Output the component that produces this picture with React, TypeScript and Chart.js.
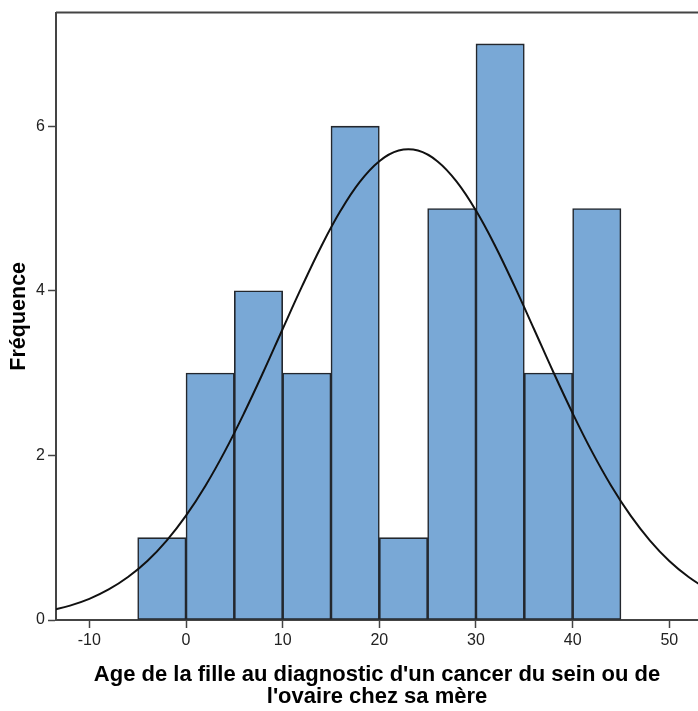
import React, { useEffect, useRef } from "react";
import { Chart, registerables } from "chart.js";

Chart.register(...registerables);

// Histogram bins (lower bounds) and counts
const binStarts = [-5, 0, 5, 10, 15, 20, 25, 30, 35, 40];
const binWidth = 5;
const counts = [1, 3, 4, 3, 6, 1, 5, 7, 3, 5];

// Normal curve
const curveX = [-14, -12, -10, -8, -6, -4, -2, 0, 2, 4, 6, 8, 10, 12, 14, 16, 18, 20, 22, 24, 26, 28, 30, 32, 34, 36, 38, 40, 42, 44, 46, 48, 50, 52, 54];
const curveY = [0.116, 0.175, 0.257, 0.371, 0.522, 0.717, 0.965, 1.268, 1.629, 2.046, 2.512, 3.013, 3.536, 4.053, 4.542, 4.975, 5.327, 5.575, 5.704, 5.704, 5.575, 5.327, 4.975, 4.542, 4.053, 3.536, 3.013, 2.512, 2.046, 1.629, 1.268, 0.965, 0.717, 0.522, 0.371];

const xTicks = [-10, 0, 10, 20, 30, 40, 50];
const yTicks = [0, 2, 4, 6];
const xMin = -13.45;
const xMax = 52.97;
const yMax = 7.38;

const xTitle = ["Age de la fille au diagnostic d'un cancer du sein ou de", "l'ovaire chez sa mère"];
const yTitle = "Fréquence";

const FONT = "Arial, 'Liberation Sans', sans-serif";

export default function App() {
  const ref = useRef<HTMLCanvasElement | null>(null);

  useEffect(() => {
    if (!ref.current) return;
    const topLine = {
      id: "topLine",
      afterDraw(chart: any) {
        const { ctx, chartArea } = chart;
        ctx.save();
        ctx.strokeStyle = "#444";
        ctx.lineWidth = 2;
        ctx.beginPath();
        ctx.moveTo(chartArea.left, chartArea.top);
        ctx.lineTo(chartArea.right, chartArea.top);
        ctx.stroke();
        ctx.restore();
      },
    };
    const chart = new Chart(ref.current, {
      type: "bar",
      data: {
        datasets: [
          {
            type: "line",
            data: curveX.map((x, i) => ({ x, y: curveY[i] })),
            borderColor: "#111",
            borderWidth: 2,
            pointRadius: 0,
            tension: 0.4,
            fill: false,
            order: 0,
          } as any,
          {
            type: "bar",
            data: binStarts.map((b, i) => ({ x: b + binWidth / 2, y: counts[i] })),
            backgroundColor: "#79a8d6",
            borderColor: "#23272d",
            borderWidth: 1.6,
            borderSkipped: false,
            barPercentage: 1,
            categoryPercentage: 1,
            order: 1,
          } as any,
        ],
      },
      options: {
        responsive: false,
        animation: false,
        layout: { padding: { top: 11, left: 0, right: 0, bottom: 0 } },
        plugins: { legend: { display: false }, tooltip: { enabled: false } },
        scales: {
          x: {
            type: "linear",
            min: xMin,
            max: xMax,
            offset: false,
            afterBuildTicks: (s: any) => {
              s.ticks = xTicks.map((v) => ({ value: v }));
            },
            afterFit: (s: any) => {
              s.height = 91;
            },
            grid: {
              offset: false,
              drawOnChartArea: false,
              drawTicks: true,
              tickLength: 8,
              tickColor: "#444",
              tickWidth: 1.5,
            },
            border: { display: true, color: "#444", width: 2 },
            ticks: {
              color: "#222",
              font: { family: FONT, size: 16 },
              padding: 3,
              maxRotation: 0,
              autoSkip: false,
            },
            title: {
              display: true,
              text: xTitle,
              color: "#000",
              font: { family: FONT, size: 22, weight: "bold", lineHeight: "22px" },
              padding: { top: 0, bottom: 3 },
            },
          },
          y: {
            type: "linear",
            min: 0,
            max: yMax,
            afterBuildTicks: (s: any) => {
              s.ticks = yTicks.map((v) => ({ value: v }));
            },
            afterFit: (s: any) => {
              s.width = 56;
            },
            grid: {
              drawOnChartArea: false,
              drawTicks: true,
              tickLength: 8,
              tickColor: "#444",
              tickWidth: 1.5,
            },
            border: { display: true, color: "#444", width: 2 },
            ticks: {
              color: "#222",
              font: { family: FONT, size: 16 },
              padding: 3,
            },
            title: {
              display: true,
              text: yTitle,
              color: "#000",
              font: { family: FONT, size: 21.5, weight: "bold", lineHeight: "23px" },
              padding: { top: 8, bottom: 0 },
            },
          },
        },
      },
      plugins: [topLine],
    });
    return () => chart.destroy();
  }, []);

  return (
    <canvas
      ref={ref}
      width={698}
      height={711}
      style={{ position: "fixed", left: 0, top: 0, width: 698, height: 711 }}
    />
  );
}
